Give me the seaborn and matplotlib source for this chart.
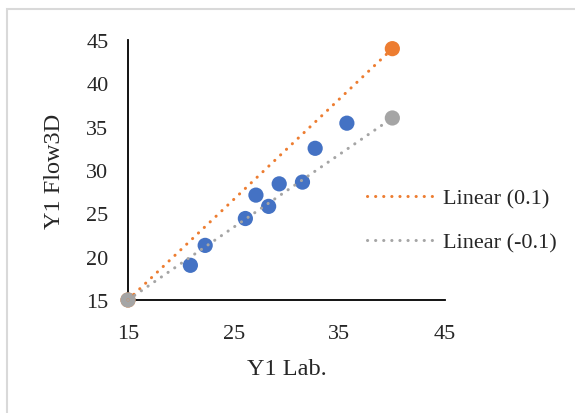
import matplotlib
matplotlib.use('Agg')
import numpy as np
import pandas as pd
import seaborn as sns
import matplotlib.pyplot as plt
from matplotlib.lines import Line2D
from matplotlib.patches import Rectangle

# measured points (lab vs Flow3D)
lab = [20.9, 22.3, 26.1, 27.1, 28.3, 29.3, 31.5, 32.7, 35.7]
flow3d = [19.0, 21.3, 24.4, 27.1, 25.8, 28.4, 28.6, 32.5, 35.4]

# +/- 10% reference series
ref_x = [15, 40]
plus10_y = [15, 44]
minus10_y = [15, 36]

blue = '#4472C4'
orange = '#ED7D31'
grey = '#A5A5A5'

sns.set_style('white')
plt.rcParams['font.family'] = ['Liberation Serif', 'DejaVu Serif']

fig = plt.figure(figsize=(5.75, 4.14), dpi=100)
ax = fig.add_axes([0.2226, 0.273, 0.5517, 0.628])

# chart frame (light grey, cut off at right/bottom)
fig.patches.append(Rectangle((7 / 575, -0.1), 1.2, 1 - 10 / 414 + 0.1,
                             transform=fig.transFigure, fill=False,
                             edgecolor='#D9D9D9', linewidth=1.5))

df = pd.DataFrame({'lab': lab, 'flow': flow3d})
sns.scatterplot(data=df, x='lab', y='flow', color=blue, s=120,
                edgecolor='none', ax=ax, zorder=3, clip_on=False)

ref = pd.DataFrame({'x': ref_x, 'p': plus10_y, 'm': minus10_y})
sns.scatterplot(data=ref, x='x', y='p', color=orange, s=120,
                edgecolor='none', ax=ax, zorder=3, clip_on=False)
sns.scatterplot(data=ref, x='x', y='m', color=grey, s=120,
                edgecolor='none', ax=ax, zorder=4, clip_on=False)

dots = (0, (0.05, 2.6))
ax.plot(ref['x'], ref['p'], color=orange, lw=2.2, ls=dots,
        dash_capstyle='round', zorder=5, clip_on=False)
ax.plot(ref['x'], ref['m'], color=grey, lw=2.2, ls=dots,
        dash_capstyle='round', zorder=5, clip_on=False)

ax.set_xlim(15, 45)
ax.set_ylim(15, 45)
ax.set_xticks([15, 25, 35, 45])
ax.set_yticks([15, 20, 25, 30, 35, 40, 45])
ax.tick_params(axis='x', length=0, pad=17, labelsize=16)
ax.tick_params(axis='y', length=0, pad=14, labelsize=16)
ax.set_xlabel('Y1 Lab.', fontsize=17.5, labelpad=11)
ax.set_ylabel('Y1 Flow3D', fontsize=17.5, labelpad=15)

for s in ['top', 'right']:
    ax.spines[s].set_visible(False)
for s in ['left', 'bottom']:
    ax.spines[s].set_color('black')
    ax.spines[s].set_linewidth(1.3)

handles = [Line2D([0], [0], color=orange, lw=2.2, ls=dots, dash_capstyle='round'),
           Line2D([0], [0], color=grey, lw=2.2, ls=dots, dash_capstyle='round')]
fig.legend(handles, ['Linear (0.1)', 'Linear (-0.1)'], loc='upper left',
           bbox_to_anchor=(347 / 575, 1 - 169 / 414), frameon=False,
           fontsize=16, handlelength=3.2, handletextpad=0.2, labelspacing=1.05)

fig.savefig('out.png', dpi=100)
